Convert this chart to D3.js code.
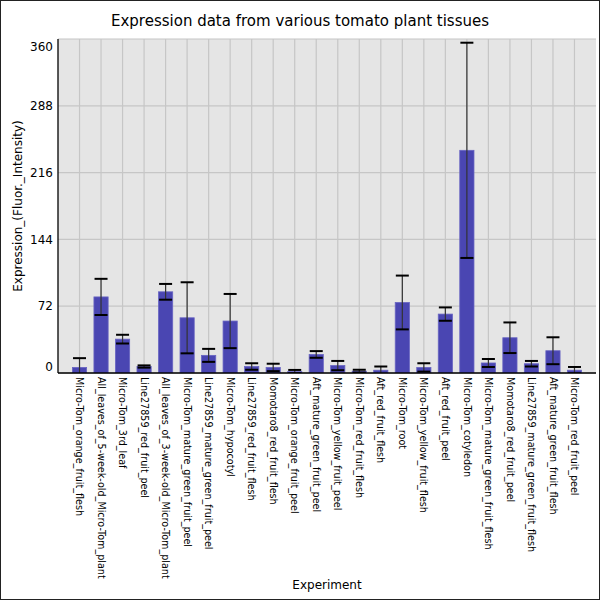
<!DOCTYPE html>
<html>
<head>
<meta charset="utf-8">
<script src="https://cdn.jsdelivr.net/npm/d3@7"></script>
<style>
  body { margin: 0; background: #fff; }
  text { font-family: "DejaVu Sans", sans-serif; }
</style>
</head>
<body>
<div id="chart"></div>
<script>
// Chart data
var experiments = [
  "Micro-Tom_orange_fruit_flesh",
  "All_leaves_of_5-week-old_Micro-Tom_plant",
  "Micro-Tom_3rd_leaf",
  "Line27859_red_fruit_peel",
  "All_leaves_of_3-week-old_Micro-Tom_plant",
  "Micro-Tom_mature_green_fruit_peel",
  "Line27859_mature_green_fruit_peel",
  "Micro-Tom_hypocotyl",
  "Line27859_red_fruit_flesh",
  "Momotaro8_red_fruit_flesh",
  "Micro-Tom_orange_fruit_peel",
  "Aft_mature_green_fruit_peel",
  "Micro-Tom_yellow_fruit_peel",
  "Micro-Tom_red_fruit_flesh",
  "Aft_red_fruit_flesh",
  "Micro-Tom_root",
  "Micro-Tom_yellow_fruit_flesh",
  "Aft_red_fruit_peel",
  "Micro-Tom_cotyledon",
  "Micro-Tom_mature_green_fruit_flesh",
  "Momotaro8_red_fruit_peel",
  "Line27859_mature_green_fruit_flesh",
  "Aft_mature_green_fruit_flesh",
  "Micro-Tom_red_fruit_peel"
];
var means = [6, 82, 36.5, 7, 87.5, 59.5, 19, 56, 7, 6, 1.5, 20,
             8, 2, 3, 76, 6, 63.5, 240, 10.8, 38, 10, 24, 3];
var errors = [10, 19.5, 4.7, 1.2, 8.5, 38.3, 7, 29.2, 3.5, 4, 1.8, 3.6,
              5, 1.5, 4, 29, 4.5, 7.2, 116, 4.3, 16.5, 3, 14.5, 3.5];
var yTicks = [0, 72, 144, 216, 288, 360];

var data = experiments.map(function(name, i) {
  return { name: name, mean: means[i], err: errors[i] };
});

var svgWidth = 600;
var svgHeight = 600;
var margin = { top: 39, right: 4, bottom: 227, left: 58 };
var width = svgWidth - margin.left - margin.right;
var height = svgHeight - margin.top - margin.bottom;

var svg = d3.select("#chart")
  .append("svg")
  .attr("width", svgWidth)
  .attr("height", svgHeight);

// outer frame
svg.append("rect")
  .attr("x", 0.5).attr("y", 0.5)
  .attr("width", svgWidth - 1).attr("height", svgHeight - 1)
  .attr("fill", "#fff")
  .attr("stroke", "#222");

var chartGroup = svg.append("g")
  .attr("transform", `translate(${margin.left}, ${margin.top})`);

// scales
var xScale = d3.scalePoint()
  .domain(experiments)
  .range([0, width])
  .padding(1);
var step = xScale.step();
var barWidth = step * 0.66;

var yScale = d3.scaleLinear()
  .domain([0, 360])
  .range([height, 0]);

// plot background
chartGroup.append("rect")
  .attr("width", width)
  .attr("height", height)
  .attr("fill", "#e5e5e5");

chartGroup.append("clipPath")
  .attr("id", "plotClip")
  .append("rect")
  .attr("width", width)
  .attr("height", height);

// grid lines
chartGroup.append("g")
  .selectAll("line.hgrid")
  .data(yTicks)
  .enter()
  .append("line")
  .attr("x1", 0).attr("x2", width)
  .attr("y1", d => yScale(d)).attr("y2", d => yScale(d))
  .attr("stroke", "#c6c6c6")
  .attr("stroke-width", 1.2);

chartGroup.append("g")
  .selectAll("line.vgrid")
  .data(experiments)
  .enter()
  .append("line")
  .attr("x1", d => xScale(d)).attr("x2", d => xScale(d))
  .attr("y1", 0).attr("y2", height)
  .attr("stroke", "#c6c6c6")
  .attr("stroke-width", 1.2);

// bars
var plot = chartGroup.append("g").attr("clip-path", "url(#plotClip)");

plot.selectAll("rect.bar")
  .data(data)
  .enter()
  .append("rect")
  .attr("class", "bar")
  .attr("x", d => xScale(d.name) - barWidth / 2)
  .attr("y", d => yScale(d.mean))
  .attr("width", barWidth)
  .attr("height", d => height - yScale(d.mean))
  .attr("fill", "#4a46b2")
  .attr("stroke", "#6864c2")
  .attr("stroke-width", 0.8);

// error bars
var errGroup = plot.selectAll("g.err")
  .data(data)
  .enter()
  .append("g");

errGroup.append("line")
  .attr("x1", d => xScale(d.name)).attr("x2", d => xScale(d.name))
  .attr("y1", d => yScale(d.mean + d.err))
  .attr("y2", d => yScale(d.mean - d.err))
  .attr("stroke", "#333")
  .attr("stroke-width", 1.2);

var capHalf = 6.5;
errGroup.append("line")
  .attr("x1", d => xScale(d.name) - capHalf).attr("x2", d => xScale(d.name) + capHalf)
  .attr("y1", d => yScale(d.mean + d.err)).attr("y2", d => yScale(d.mean + d.err))
  .attr("stroke", "#000")
  .attr("stroke-width", 2);

errGroup.append("line")
  .attr("x1", d => xScale(d.name) - capHalf).attr("x2", d => xScale(d.name) + capHalf)
  .attr("y1", d => yScale(d.mean - d.err)).attr("y2", d => yScale(d.mean - d.err))
  .attr("stroke", "#000")
  .attr("stroke-width", 2);

// axes lines
chartGroup.append("line")
  .attr("x1", 0).attr("x2", 0)
  .attr("y1", 0).attr("y2", height)
  .attr("stroke", "#000").attr("stroke-width", 1.3);

chartGroup.append("line")
  .attr("x1", 0).attr("x2", width)
  .attr("y1", height).attr("y2", height)
  .attr("stroke", "#000").attr("stroke-width", 1.3);

// y tick labels (end labels nudged inside the plot)
chartGroup.append("g")
  .selectAll("text")
  .data(yTicks)
  .enter()
  .append("text")
  .attr("x", -5)
  .attr("y", function(d) {
    var y = yScale(d);
    if (d === 360) y += 8;
    if (d === 0) y -= 6;
    return y;
  })
  .attr("dy", "0.35em")
  .attr("text-anchor", "end")
  .attr("font-size", "12px")
  .attr("fill", "#000")
  .text(d => d);

// x tick labels, rotated
chartGroup.append("g")
  .selectAll("text")
  .data(experiments)
  .enter()
  .append("text")
  .attr("transform", d => `translate(${xScale(d)}, ${height + 4}) rotate(90)`)
  .attr("dy", "0.35em")
  .attr("text-anchor", "start")
  .attr("font-size", "9.6px")
  .attr("fill", "#000")
  .text(d => d);

// titles
svg.append("text")
  .attr("x", svgWidth / 2)
  .attr("y", 26)
  .attr("text-anchor", "middle")
  .attr("font-size", "15px")
  .text("Expression data from various tomato plant tissues");

svg.append("text")
  .attr("transform", `translate(22, ${margin.top + height / 2}) rotate(-90)`)
  .attr("text-anchor", "middle")
  .attr("font-size", "12px")
  .text("Expression_(Fluor._Intensity)");

svg.append("text")
  .attr("x", margin.left + width / 2)
  .attr("y", 589)
  .attr("text-anchor", "middle")
  .attr("font-size", "12px")
  .text("Experiment");
</script>
</body>
</html>
